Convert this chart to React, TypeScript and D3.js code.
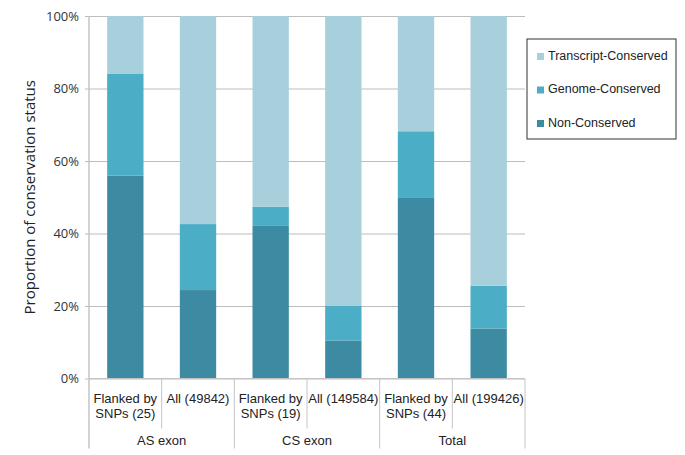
import { useRef, useEffect } from 'react'
import * as d3 from 'd3'

const GROUPS = ['AS exon', 'CS exon', 'Total']
const CATEGORIES = [
  ['Flanked by', 'SNPs (25)'],
  ['All (49842)'],
  ['Flanked by', 'SNPs (19)'],
  ['All (149584)'],
  ['Flanked by', 'SNPs (44)'],
  ['All (199426)'],
]
const SERIES = ['Non-Conserved', 'Genome-Conserved', 'Transcript-Conserved']
const NON_CONSERVED = [56, 24.4, 42.1, 10.5, 50, 13.8]
const GENOME_CONSERVED = [28, 18.2, 5.3, 9.5, 18.2, 11.8]
const TRANSCRIPT_CONSERVED = [16, 57.4, 52.6, 80, 31.8, 74.4]
const Y_TICKS = [0, 20, 40, 60, 80, 100]
const COLORS = ['#3d8ba3', '#4badc6', '#a8cfdc']

export default function App() {
  const svgRef = useRef<SVGSVGElement>(null)

  useEffect(() => {
    if (!svgRef.current) return
    const m = { top: 16, left: 89 }
    const iW = 525 - m.left
    const iH = 378.5 - m.top

    const svg = d3.select(svgRef.current)
    svg.selectAll('*').remove()
    const g = svg.append('g').attr('transform', `translate(${m.left},${m.top})`)

    const idx = CATEGORIES.map((_, i) => i)
    const x = d3.scaleBand<number>().domain(idx).range([0, iW]).paddingInner(0.5).paddingOuter(0.25)
    const y = d3.scaleLinear().domain([0, 100]).range([iH, 0])

    // grid
    g.append('g').call(d3.axisLeft(y).tickValues(Y_TICKS).tickSize(-iW).tickFormat(() => ''))
      .call(s => s.select('.domain').remove())
      .selectAll('line').attr('stroke', '#bdbdbd').attr('stroke-width', 1)

    // y tick labels
    g.append('g').call(d3.axisLeft(y).tickValues(Y_TICKS).tickSize(4).tickPadding(6).tickFormat(d => `${d}%`))
      .call(s => s.select('.domain').remove())
      .call(s => s.selectAll('line').attr('stroke', '#bdbdbd'))
      .selectAll('text').attr('fill', '#333').attr('font-size', '13px').attr('font-family', '"Open Sans", sans-serif')

    // stacked bars
    const rows = idx.map(i => ({ i, non: NON_CONSERVED[i], genome: GENOME_CONSERVED[i], transcript: TRANSCRIPT_CONSERVED[i] }))
    const stack = d3.stack<any>().keys(['non', 'genome', 'transcript'])(rows)
    stack.forEach((layer, li) => {
      g.append('g').selectAll('rect').data(layer).enter().append('rect')
        .attr('x', d => x(d.data.i)!)
        .attr('width', x.bandwidth())
        .attr('y', d => y(Math.min(100, d[1])))
        .attr('height', d => y(d[0]) - y(Math.min(100, d[1])))
        .attr('fill', COLORS[li])
    })

    // y axis line
    g.append('line').attr('x1', 0).attr('x2', 0).attr('y1', 0).attr('y2', iH + 70)
      .attr('stroke', '#c4c4c4').attr('stroke-width', 1.5)
    // baseline
    g.append('line').attr('x1', 0).attr('x2', iW).attr('y1', iH).attr('y2', iH)
      .attr('stroke', '#c4c4c4').attr('stroke-width', 1)

    const step = x.step()
    // category dividers + labels
    idx.forEach(i => {
      const xr = (i + 1) * step
      const long = (i + 1) % 2 === 0
      g.append('line').attr('x1', xr).attr('x2', xr).attr('y1', iH).attr('y2', iH + (long ? 70 : 50))
        .attr('stroke', '#c4c4c4').attr('stroke-width', 1)
      const cx = x(i)! + x.bandwidth() / 2
      CATEGORIES[i].forEach((t, k) => {
        g.append('text').attr('x', cx).attr('y', iH + 24 + k * 15.5)
          .attr('text-anchor', 'middle').attr('fill', '#222')
          .attr('font-size', '13px').attr('font-family', '"Liberation Sans", Arial, sans-serif')
          .text(t)
      })
    })
    GROUPS.forEach((gname, k) => {
      g.append('text').attr('x', (k * 2 + 1) * step).attr('y', iH + 66)
        .attr('text-anchor', 'middle').attr('fill', '#222')
        .attr('font-size', '13px').attr('font-family', '"Liberation Sans", Arial, sans-serif')
        .text(gname)
    })

    // y axis title
    svg.append('text').attr('transform', `translate(35,${m.top + iH / 2}) rotate(-90)`)
      .attr('text-anchor', 'middle').attr('fill', '#222')
      .attr('font-size', '15px').attr('font-family', '"Open Sans", sans-serif')
      .text('Proportion of conservation status')

    // legend
    const lg = svg.append('g').attr('transform', 'translate(527,39)')
    lg.append('rect').attr('width', 149).attr('height', 100)
      .attr('fill', 'white').attr('stroke', '#333').attr('stroke-width', 1)
    const legendOrder = [2, 1, 0]
    legendOrder.forEach((si, k) => {
      const yy = 17.5 + k * 33.5
      lg.append('rect').attr('x', 10).attr('y', yy - 3.5).attr('width', 7).attr('height', 7).attr('fill', COLORS[si])
      lg.append('text').attr('x', 21).attr('y', yy).attr('dominant-baseline', 'middle')
        .attr('fill', '#222').attr('font-size', '12.5px').attr('font-family', '"Liberation Sans", Arial, sans-serif')
        .text(SERIES[si])
    })
  }, [])

  return (
    <svg ref={svgRef} width={685} height={455}
      style={{ position: 'absolute', left: 0, top: 0, background: 'white', display: 'block' }} />
  )
}
